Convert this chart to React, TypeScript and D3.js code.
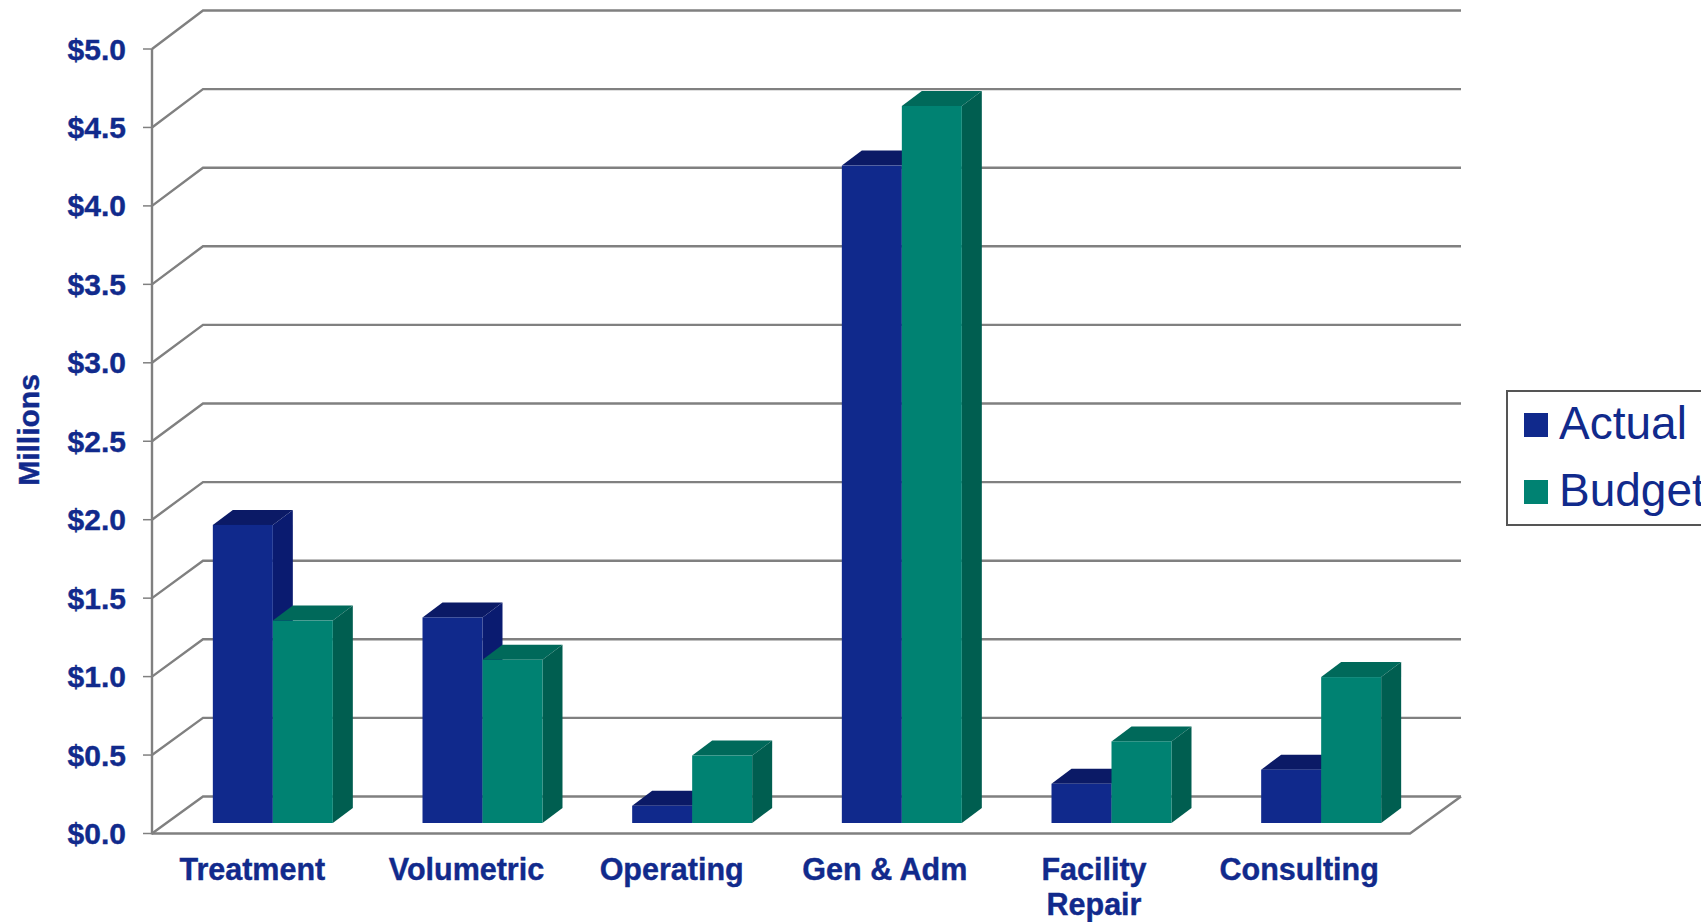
import React from "react";
import * as d3 from "d3";

const categories = ["Treatment", "Volumetric", "Operating", "Gen & Adm", "Facility Repair", "Consulting"];
const actual = [1.9, 1.31, 0.11, 4.19, 0.25, 0.34];
const budget = [1.29, 1.04, 0.43, 4.57, 0.52, 0.93];
const yTicks = [0, 0.5, 1, 1.5, 2, 2.5, 3, 3.5, 4, 4.5, 5];
const seriesNames = ["Actual", "Budget"];
// Hand adjustment of each category caption, in pixels from its band centre.
const captionNudge = [-4.5, 0, -4.5, -1, -1.5, -6];

const WIDTH = 1701;
const HEIGHT = 922;
const FONT = "'Liberation Sans', Arial, sans-serif";
const INK = "#112a8c";
const GRID = "#808080";

// Oblique projection of the chart box: the floor recedes up and to the right.
const wallDx = 51;
const barInsetDx = 16;
const barInsetDy = -10.5;
const barDepthDx = 20;
const barDepthDy = -15;

const palette = [
  { front: "#10298c", side: "#0a1b70", top: "#0b1a66" },
  { front: "#008272", side: "#005e50", top: "#00695a" },
];

const y = d3.scaleLinear().domain([0, 5]).range([833.5, 49]);
const yBack = d3.scaleLinear().domain([0, 5]).range([796.5, 10.5]);
const x0 = d3.scaleBand<string>().domain(categories).range([152, 1410]).paddingInner(0.4277).paddingOuter(0.21385);
const x1 = d3.scaleBand<string>().domain(seriesNames).range([0, x0.bandwidth()]);

const poly = (pts: [number, number][]) => d3.line()(pts) + "Z";

function Bar({ left, width, value, colors }: { left: number; width: number; value: number; colors: (typeof palette)[number] }) {
  const bottom = y(0) + barInsetDy;
  const top = y(value) + barInsetDy;
  const right = left + width;
  return (
    <g>
      <path
        d={poly([[left, top], [left + barDepthDx, top + barDepthDy], [right + barDepthDx, top + barDepthDy], [right, top]])}
        fill={colors.top}
      />
      <path
        d={poly([[right, top], [right + barDepthDx, top + barDepthDy], [right + barDepthDx, bottom + barDepthDy], [right, bottom]])}
        fill={colors.side}
      />
      <rect x={left} y={top} width={width} height={bottom - top} fill={colors.front} />
    </g>
  );
}

export default function App() {
  const [xMin, xMax] = x0.range() as [number, number];
  return (
    <svg
      width={WIDTH}
      height={HEIGHT}
      viewBox={`0 0 ${WIDTH} ${HEIGHT}`}
      style={{ position: "fixed", left: 0, top: 0, background: "#fff" }}
      fontFamily={FONT}
    >
      {/* wall gridlines with their floor-side returns and outer ticks */}
      <g fill="none" stroke={GRID} strokeWidth={2.4}>
        {yTicks.map((t) => (
          <g key={t}>
            <path d={d3.line()([[xMin, y(t)], [xMin + wallDx, yBack(t)], [xMax + wallDx, yBack(t)]]) as string} />
            <line x1={xMin - 9} x2={xMin} y1={y(t)} y2={y(t)} strokeWidth={1.5} />
          </g>
        ))}
        <line x1={xMin} x2={xMin} y1={y(5)} y2={y(0) + 1} />
        <path d={d3.line()([[xMin, y(0)], [xMax, y(0)], [xMax + wallDx, yBack(0)]]) as string} />
      </g>

      {/* paired bars, left to right so each one overlaps its neighbour's side */}
      {categories.map((c, i) => (
        <g key={c}>
          {[actual[i], budget[i]].map((v, s) => (
            <Bar
              key={seriesNames[s]}
              left={(x0(c) as number) + barInsetDx + (x1(seriesNames[s]) as number)}
              width={x1.bandwidth()}
              value={v}
              colors={palette[s]}
            />
          ))}
        </g>
      ))}

      {/* value axis */}
      <g fill={INK} stroke={INK} strokeWidth={0.4} fontSize={30} fontWeight={700} textAnchor="end">
        {yTicks.map((t) => (
          <text key={t} x={126} y={y(t) + 10.5}>
            {d3.format("$.1f")(t)}
          </text>
        ))}
      </g>
      <text
        transform="translate(39,430) rotate(-90)"
        textAnchor="middle"
        fill={INK}
        stroke={INK}
        strokeWidth={0.4}
        fontSize={30}
        fontWeight={700}
      >
        Millions
      </text>

      {/* category axis; long names break onto two lines */}
      <g fill={INK} stroke={INK} strokeWidth={0.4} fontSize={30.5} fontWeight={700} textAnchor="middle">
        {categories.map((c, i) => {
          const cx = (x0(c) as number) + x0.bandwidth() / 2 + captionNudge[i];
          const words = c === "Facility Repair" ? c.split(" ") : [c];
          return (
            <text key={c} x={cx} y={880}>
              {words.map((w, k) => (
                <tspan key={w} x={cx} dy={k === 0 ? 0 : 35}>
                  {w}
                </tspan>
              ))}
            </text>
          );
        })}
      </g>

      {/* legend, running off the right edge of the canvas */}
      <rect x={1507} y={391} width={220} height={134} fill="#fff" stroke="#555" strokeWidth={2} />
      {seriesNames.map((name, i) => (
        <g key={name}>
          <rect x={1524} y={413 + i * 67} width={24} height={24} fill={palette[i].front} />
          <text x={1559} y={439 + i * 67} fontSize={46} fill={INK}>
            {name}
          </text>
        </g>
      ))}
    </svg>
  );
}
